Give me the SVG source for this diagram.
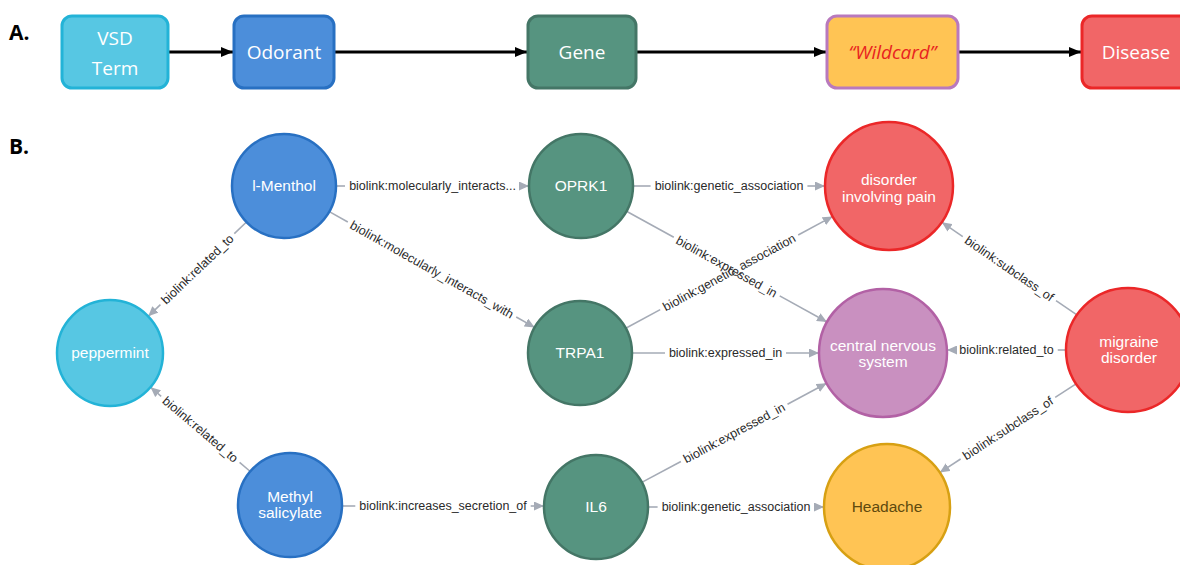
<svg xmlns="http://www.w3.org/2000/svg" width="1180" height="565" viewBox="0 0 1180 565">
  <style>
    .panel { font-family: "Open Sans", "Liberation Sans", sans-serif; font-weight: bold; font-size: 21px; fill: #000; }
    .box text { font-family: "Open Sans", "Liberation Sans", sans-serif; font-size: 19px; fill: #fff; text-anchor: middle; }
    .flow { stroke: #000; stroke-width: 3; fill: none; marker-end: url(#arrowA); }
    .node text { font-family: "Liberation Sans", Arial, sans-serif; font-size: 15.5px; fill: #fff; text-anchor: middle; }
    .node circle { stroke-width: 2.5; }
    .edge line { stroke: #a5abb6; stroke-width: 1.6; }
    .edge line.head { marker-end: url(#arrowB); }
    .edge text { font-family: "Liberation Sans", Arial, sans-serif; font-size: 12.5px; fill: #2a2a2a; text-anchor: middle; }
    .chem { fill: #4c8eda; stroke: #2870c2; }
    .plant { fill: #57c7e3; stroke: #23b3d7; }
    .gene { fill: #569480; stroke: #447666; }
    .dis { fill: #f16667; stroke: #eb2728; }
    .anat { fill: #c990c0; stroke: #b261a5; }
    .pheno { fill: #ffc454; stroke: #d7a013; }
  </style>
  <defs>
    <marker id="arrowA" markerUnits="userSpaceOnUse" markerWidth="12" markerHeight="12" refX="12" refY="6" orient="auto">
      <path d="M0,1 L12,6 L0,11 Z" fill="#000"/>
    </marker>
    <marker id="arrowB" markerUnits="userSpaceOnUse" markerWidth="10" markerHeight="9" refX="10" refY="4.5" orient="auto">
      <path d="M0,0 L10,4.5 L0,9 Z" fill="#a5abb6"/>
    </marker>
  </defs>
  <rect width="1180" height="565" fill="#fff"/>

  <!-- Panel A: schema -->
  <text class="panel" x="9" y="40">A.</text>
  <g id="connectors-a">
    <line class="flow" x1="168" y1="52" x2="233" y2="52"/>
    <line class="flow" x1="334" y1="52" x2="527" y2="52"/>
    <line class="flow" x1="637" y1="52" x2="826" y2="52"/>
    <line class="flow" x1="959" y1="52" x2="1081" y2="52"/>
  </g>
  <g id="box-vsd" class="box">
    <rect x="62" y="16" width="106" height="72" rx="10" fill="#57c7e3" stroke="#23b3d7" stroke-width="3"/>
    <text x="115" y="45">VSD</text>
    <text x="115" y="75">Term</text>
  </g>
  <g id="box-odorant" class="box">
    <rect x="234" y="16" width="100" height="72" rx="10" fill="#4c8eda" stroke="#2870c2" stroke-width="3"/>
    <text x="284" y="59">Odorant</text>
  </g>
  <g id="box-gene" class="box">
    <rect x="528" y="16" width="108" height="72" rx="10" fill="#569480" stroke="#447666" stroke-width="3"/>
    <text x="582" y="59">Gene</text>
  </g>
  <g id="box-wildcard" class="box">
    <rect x="827" y="16" width="131" height="72" rx="10" fill="#ffc454" stroke="#b979bd" stroke-width="3"/>
    <text x="892.5" y="59" style="font-style:italic; fill:#e8231f">“Wildcard”</text>
  </g>
  <g id="box-disease" class="box">
    <rect x="1082" y="16" width="108" height="72" rx="10" fill="#f16667" stroke="#eb2728" stroke-width="3"/>
    <text x="1136" y="59">Disease</text>
  </g>

  <!-- Panel B: knowledge graph -->
  <text class="panel" x="9" y="154">B.</text>
  <g id="connectors-b" class="edge">
    <!-- l-Menthol to OPRK1 -->
    <line x1="336" y1="186" x2="345" y2="186"/>
    <line class="head" x1="520" y1="186" x2="529" y2="186"/>
    <text transform="translate(432.5,186)" dy="0.35em">biolink:molecularly_interacts...</text>
    <!-- l-Menthol to TRPA1 -->
    <line x1="329.3" y1="211.6" x2="347.8" y2="222.0"/>
    <line class="head" x1="516.2" y1="317.0" x2="534.7" y2="327.4"/>
    <text transform="translate(432,269.5) rotate(29.43)" dy="0.35em">biolink:molecularly_interacts_with</text>
    <!-- l-Menthol to peppermint -->
    <line x1="246.5" y1="222.0" x2="234.3" y2="233.7"/>
    <line class="head" x1="160.4" y1="304.6" x2="148.2" y2="316.3"/>
    <text transform="translate(197.35,269.15) rotate(-43.8)" dy="0.35em">biolink:related_to</text>
    <!-- Methyl salicylate to peppermint -->
    <line x1="250.3" y1="471.5" x2="239.6" y2="462.4"/>
    <line class="head" x1="161.2" y1="396.3" x2="150.5" y2="387.2"/>
    <text transform="translate(200.4,429.35) rotate(40.2)" dy="0.35em">biolink:related_to</text>
    <!-- Methyl salicylate to IL6 -->
    <line x1="342" y1="506" x2="355.3" y2="506"/>
    <line class="head" x1="530.7" y1="506" x2="544" y2="506"/>
    <text transform="translate(443,506)" dy="0.35em">biolink:increases_secretion_of</text>
    <!-- OPRK1 to disorder involving pain -->
    <line x1="633" y1="186" x2="650.6" y2="186"/>
    <line class="head" x1="807.4" y1="186" x2="825" y2="186"/>
    <text transform="translate(729,186)" dy="0.35em">biolink:genetic_association</text>
    <!-- OPRK1 to central nervous system -->
    <line x1="626.5" y1="211.2" x2="673.8" y2="237.3"/>
    <line class="head" x1="779.7" y1="295.9" x2="827.0" y2="322.0"/>
    <text transform="translate(726.75,266.6) rotate(28.94)" dy="0.35em">biolink:expressed_in</text>
    <!-- TRPA1 to disorder involving pain -->
    <line x1="625.75" y1="328.3" x2="660.2" y2="309.65"/>
    <line class="head" x1="798.2" y1="235.05" x2="832.7" y2="216.4"/>
    <text transform="translate(729.2,272.35) rotate(-28.39)" dy="0.35em">biolink:genetic_association</text>
    <!-- TRPA1 to central nervous system -->
    <line x1="632" y1="353" x2="665" y2="353"/>
    <line class="head" x1="786" y1="353" x2="819" y2="353"/>
    <text transform="translate(725.5,353)" dy="0.35em">biolink:expressed_in</text>
    <!-- IL6 to central nervous system -->
    <line x1="641.8" y1="482.4" x2="680.9" y2="461.45"/>
    <line class="head" x1="787.5" y1="404.25" x2="826.6" y2="383.3"/>
    <text transform="translate(734.2,432.85) rotate(-28.22)" dy="0.35em">biolink:expressed_in</text>
    <!-- IL6 to Headache -->
    <line x1="648" y1="507" x2="657.6" y2="507"/>
    <line class="head" x1="814.4" y1="507" x2="824" y2="507"/>
    <text transform="translate(736,507)" dy="0.35em">biolink:genetic_association</text>
    <!-- migraine disorder to disorder involving pain -->
    <line x1="1076.9" y1="314.9" x2="1056.0" y2="300.6"/>
    <line class="head" x1="962.75" y1="236.55" x2="941.8" y2="222.2"/>
    <text transform="translate(1009.35,268.55) rotate(34.46)" dy="0.35em">biolink:subclass_of</text>
    <!-- migraine disorder to central nervous system -->
    <line x1="1066" y1="350" x2="1057.75" y2="350"/>
    <line class="head" x1="955.25" y1="350" x2="947" y2="350"/>
    <text transform="translate(1006.5,350)" dy="0.35em">biolink:related_to</text>
    <!-- migraine disorder to Headache -->
    <line x1="1076.05" y1="383.85" x2="1055.2" y2="397.4"/>
    <line class="head" x1="960.6" y1="459.0" x2="939.8" y2="472.6"/>
    <text transform="translate(1007.9,428.2) rotate(-33.08)" dy="0.35em">biolink:subclass_of</text>
  </g>

  <g id="node-menthol" class="node">
    <circle class="chem" cx="284" cy="186" r="52"/>
    <text x="284" y="191">l-Menthol</text>
  </g>
  <g id="node-oprk1" class="node">
    <circle class="gene" cx="581" cy="186" r="52"/>
    <text x="581" y="191">OPRK1</text>
  </g>
  <g id="node-pain" class="node">
    <circle class="dis" cx="889" cy="186" r="64"/>
    <text x="889" y="185">disorder</text>
    <text x="889" y="202">involving pain</text>
  </g>
  <g id="node-peppermint" class="node">
    <circle class="plant" cx="110" cy="353" r="53"/>
    <text x="110" y="358">peppermint</text>
  </g>
  <g id="node-trpa1" class="node">
    <circle class="gene" cx="580" cy="353" r="52"/>
    <text x="580" y="358">TRPA1</text>
  </g>
  <g id="node-cns" class="node">
    <circle class="anat" cx="883" cy="353" r="64"/>
    <text x="883" y="351">central nervous</text>
    <text x="883" y="367">system</text>
  </g>
  <g id="node-migraine" class="node">
    <circle class="dis" cx="1128" cy="350" r="62"/>
    <text x="1129" y="347">migraine</text>
    <text x="1129" y="363">disorder</text>
  </g>
  <g id="node-methyl" class="node">
    <circle class="chem" cx="290" cy="505" r="52"/>
    <text x="290" y="502">Methyl</text>
    <text x="290" y="518">salicylate</text>
  </g>
  <g id="node-il6" class="node">
    <circle class="gene" cx="596" cy="507" r="52"/>
    <text x="596" y="512">IL6</text>
  </g>
  <g id="node-headache" class="node">
    <circle class="pheno" cx="887" cy="507" r="63"/>
    <text x="887" y="512" style="fill:#604a0e">Headache</text>
  </g>
</svg>
